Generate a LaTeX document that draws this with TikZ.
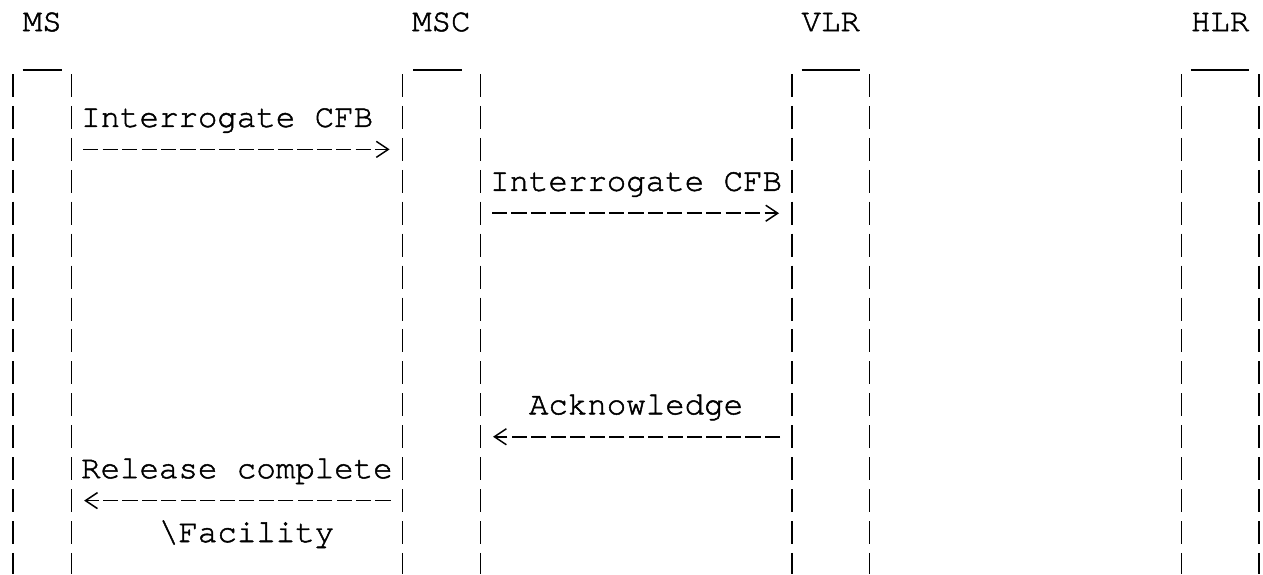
\documentclass[tikz,border=0pt]{standalone}
\usepackage{fontspec}
\IfFontExistsTF{texgyrecursor-regular.otf}
  {\newfontfamily\asciifont[FakeBold=1.5]{texgyrecursor-regular.otf}}
  {\newfontfamily\asciifont{Liberation Mono}}
\usetikzlibrary{arrows.meta}

% character grid: column centre x and row top y (in pt, y grows downwards)
\newcommand\colx[1]{(13+19.47*(#1))}
\newcommand\rowy[1]{(74+31.93*(#1))}

\tikzset{
  lbl/.style={font=\asciifont\fontsize{32.45}{32.45}\selectfont,
              anchor=base west, inner sep=0pt, outer sep=0pt, text=black},
  lifeline/.style={line width=1.4pt, line cap=butt, dash pattern=on 23pt off 8.93pt},
  lid/.style={line width=1.4pt},
  msg/.style={line width=1.7pt, line cap=butt, dash pattern=on 15.2pt off 4.27pt,
              -{Straight Barb[length=12pt,width=16pt,line width=1.5pt]}},
}

\begin{document}
\begin{tikzpicture}[x=1pt,y={(0pt,-1pt)}]
  \fill[white] (0,0) rectangle (1263,574);
  \useasboundingbox (0,0) rectangle (1263,574);

  % entity names
  \node[lbl] (nMS)  at ({\colx{0.5}},  {\rowy{-2}+21}) {MS};
  \node[lbl] (nMSC) at ({\colx{20.5}}, {\rowy{-2}+21}) {MSC};
  \node[lbl] (nVLR) at ({\colx{40.5}}, {\rowy{-2}+21}) {VLR};
  \node[lbl] (nHLR) at ({\colx{60.5}}, {\rowy{-2}+21}) {HLR};

  % box lids
  \coordinate (lidMSa)  at ({\colx{0.5}}, 70);  \coordinate (lidMSb)  at ({\colx{2.5}}, 70);
  \coordinate (lidMSCa) at (413, 70);           \coordinate (lidMSCb) at (462, 70);
  \coordinate (lidVLRa) at ({\colx{40.5}}, 70); \coordinate (lidVLRb) at ({\colx{43.5}}, 70);
  \coordinate (lidHLRa) at ({\colx{60.5}}, 70); \coordinate (lidHLRb) at ({\colx{63.5}}, 70);
  \foreach \e in {MS,MSC,VLR,HLR}
    \draw[lid] (lid\e a) -- (lid\e b);

  % lifeline walls
  \foreach \c/\n in {0/a,3/b,20/c,24/d,40/e,44/f,60/g,64/h} {
    \coordinate (wall\n top) at ({\colx{\c}}, {\rowy{0}});
    \coordinate (wall\n bot) at ({\colx{\c}}, 574);
    \draw[lifeline] (wall\n top) -- (wall\n bot);
  }

  % message labels
  \node[lbl] (l1) at ({\colx{3.5}},  {\rowy{1}+21})  {Interrogate CFB};
  \node[lbl] (l2) at ({\colx{24.5}}, {\rowy{3}+21})  {Interrogate CFB};
  \node[lbl] (l3) at ({\colx{26.5}}, {\rowy{10}+21}) {Acknowledge};
  \node[lbl] (l4) at ({\colx{3.5}},  {\rowy{12}+21}) {Release complete};
  \node[lbl] (l5) at ({\colx{7.5}},  {\rowy{14}+21}) {\textbackslash Facility};

  % message arrows
  \coordinate (m1s) at ({\colx{3.5}+2},  {\rowy{2}+11.5});
  \coordinate (m1e) at ({\colx{19.5}-3}, {\rowy{2}+11.5});
  \coordinate (m2s) at ({\colx{24.5}+2}, {\rowy{4}+11.5});
  \coordinate (m2e) at ({\colx{39.5}-3}, {\rowy{4}+11.5});
  \coordinate (m3s) at ({\colx{39.5}-2}, {\rowy{11}+11.5});
  \coordinate (m3e) at ({\colx{24.5}+3}, {\rowy{11}+11.5});
  \coordinate (m4s) at ({\colx{19.5}-2}, {\rowy{13}+11.5});
  \coordinate (m4e) at ({\colx{3.5}+3},  {\rowy{13}+11.5});
  \draw[msg] (m1s) -- (m1e);
  \draw[msg] (m2s) -- (m2e);
  \draw[msg] (m3s) -- (m3e);
  \draw[msg] (m4s) -- (m4e);
\end{tikzpicture}
\end{document}
